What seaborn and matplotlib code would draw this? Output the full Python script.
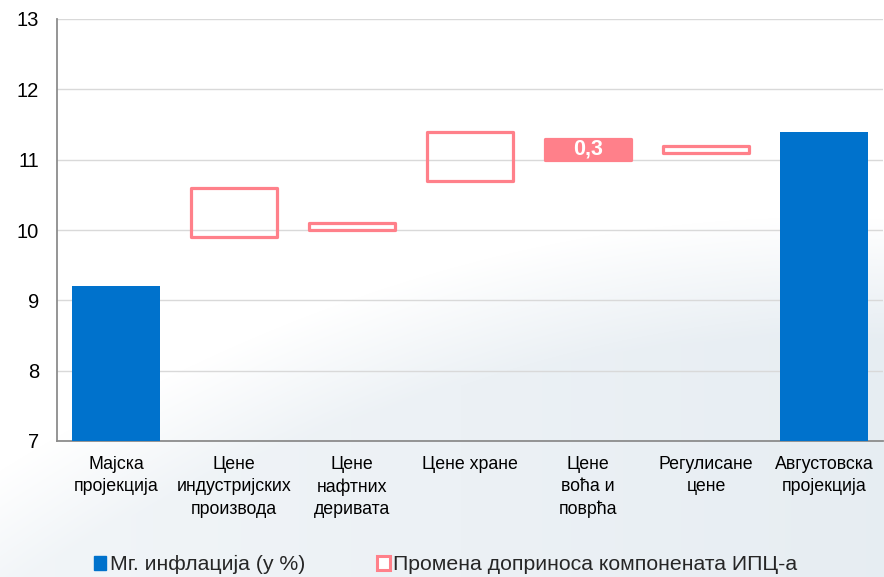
import numpy as np
import matplotlib
matplotlib.use("Agg")
import matplotlib.pyplot as plt
import seaborn as sns
from matplotlib import font_manager
from matplotlib.patches import Patch

# Categories along the x axis
categories = [
    "Мајска\nпројекција",
    "Цене\nиндустријских\nпроизвода",
    "Цене\nнафтних\nдеривата",
    "Цене хране",
    "Цене\nвоћа и\nповрћа",
    "Регулисане\nцене",
    "Августовска\nпројекција",
]
# Y-o-y inflation projections (%)
inflation = [9.2, np.nan, np.nan, np.nan, np.nan, np.nan, 11.4]
# Floating boxes: change in contribution of CPI components
contrib_low = [np.nan, 9.9, 10.0, 10.7, 11.0, 11.1, np.nan]
contrib_high = [np.nan, 10.6, 10.1, 11.4, 11.3, 11.2, np.nan]
labelled_box = "Цене\nвоћа и\nповрћа"

y_ticks = [7, 8, 9, 10, 11, 12, 13]
legend_labels = ["Мг. инфлација (у %)", "Промена доприноса компонената ИПЦ-а"]

BLUE = "#0072CC"
PINK = "#FF808A"
GRID = "#D9D9D9"
AXIS = "#8C8C8C"


def pick(*names):
    for n in names:
        try:
            font_manager.findfont(font_manager.FontProperties(family=n),
                                  fallback_to_default=False)
            return n
        except Exception:
            continue
    return "DejaVu Sans"


sns.set_theme(style="white")
REG = pick("Liberation Sans", "Arial", "DejaVu Sans")
plt.rcParams["font.family"] = [REG, "DejaVu Sans"]

W, H = 884, 577
fig = plt.figure(figsize=(W / 100, H / 100), dpi=100)
fig.patch.set_facecolor("white")

# Soft pale backdrop in the lower part of the figure
bg = fig.add_axes([0, 0, 1, 1], zorder=-5)
yy, xx = np.mgrid[0:H, 0:W]
curve = 470 - 0.62 * xx + 0.00038 * xx ** 2
t = np.clip((yy - curve) / 120.0, 0, 1)
t = t * (0.55 + 0.45 * np.clip(xx / W, 0, 1))
top = np.array([1.0, 1.0, 1.0])
tint = np.array([0.905, 0.930, 0.950])
img = top[None, None, :] * (1 - t[..., None]) + tint[None, None, :] * t[..., None]
bg.imshow(img, aspect="auto", extent=[0, 1, 0, 1], origin="upper")
bg.set_axis_off()

ax = fig.add_axes([57 / W, 1 - 441 / H, 1 - 57 / W - 0.001, (441 - 19) / H])
ax.patch.set_alpha(0)

sns.barplot(x=categories, y=inflation, order=categories, color=BLUE,
            saturation=1, width=0.75, errorbar=None, ax=ax, zorder=3,
            linewidth=0)

for i, (lo, hi) in enumerate(zip(contrib_low, contrib_high)):
    if np.isnan(lo):
        continue
    filled = categories[i] == labelled_box
    ax.bar(i, hi - lo, bottom=lo, width=0.73,
           facecolor=PINK if filled else "none", edgecolor=PINK,
           linewidth=2.3, zorder=4, joinstyle="round")
    if filled:
        ax.text(i, (lo + hi) / 2, f"{hi - lo:.1f}".replace(".", ","),
                ha="center", va="center", color="white", fontsize=15.5,
                fontweight="bold", zorder=5)

ax.set_ylim(7, 13)
ax.set_xlim(-0.5, len(categories) - 0.5)
ax.set_yticks(y_ticks)
ax.yaxis.grid(True, color=GRID, linewidth=1.0, zorder=0)
ax.set_axisbelow(True)

for side in ("top", "right"):
    ax.spines[side].set_visible(False)
for side in ("left", "bottom"):
    ax.spines[side].set_color(AXIS)
    ax.spines[side].set_linewidth(1.3)

ax.tick_params(axis="y", length=0, pad=13, labelsize=14.5, labelcolor="black")
ax.set_xticks(np.arange(-0.5, len(categories), 1), minor=True)
ax.tick_params(axis="x", which="minor", length=5, width=1.3, color=AXIS,
               direction="out")
ax.tick_params(axis="x", which="major", length=0, pad=11)
ax.set_xticks(range(len(categories)))
ax.set_xticklabels(categories, fontsize=12.8, linespacing=1.4, color="black")
ax.set_xlabel("")
ax.set_ylabel("")

handles = [
    Patch(facecolor=BLUE, edgecolor=BLUE),
    Patch(facecolor="white", edgecolor=PINK, linewidth=2.2),
]
leg = fig.legend(handles, legend_labels, loc="center",
                 bbox_to_anchor=(0.504, 0.021), ncol=2, frameon=False,
                 handlelength=0.6, handleheight=0.6, handletextpad=0.15,
                 columnspacing=3.4, borderaxespad=0,
                 prop={"size": 15.3})

fig.savefig("out.png", dpi=100, facecolor=fig.get_facecolor())
